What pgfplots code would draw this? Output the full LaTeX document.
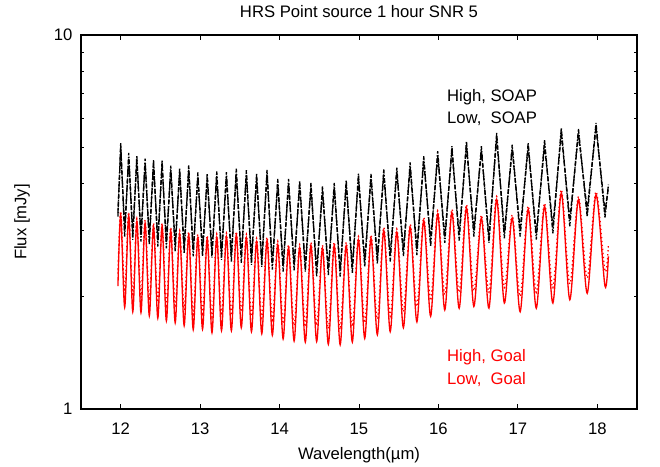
\documentclass[border=0pt]{standalone}
\usepackage{pgfplots}
\usepackage{pgfplotstable}
\usepackage{fontspec}
\setmainfont{Liberation Sans}
\pgfplotsset{compat=1.18}
\pgfplotstableread{
x hs ls hg lg
11.965 3.27 3.35 2.13 2.30
12.000 5.14 4.99 3.31 3.38
12.050 2.89 3.01 1.87 2.06
12.101 4.84 4.69 3.29 3.36
12.152 2.835 2.95 1.82 2.00
12.203 4.76 4.62 3.17 3.23
12.255 2.805 2.92 1.81 1.99
12.307 4.67 4.53 3.14 3.20
12.360 2.75 2.86 1.775 1.95
12.413 4.64 4.50 3.08 3.14
12.467 2.72 2.83 1.75 1.93
12.521 4.62 4.48 3.08 3.14
12.575 2.69 2.80 1.72 1.89
12.630 4.47 4.34 3.00 3.06
12.686 2.64 2.75 1.70 1.87
12.742 4.41 4.28 2.94 3.00
12.799 2.61 2.71 1.67 1.84
12.856 4.48 4.35 2.92 2.98
12.913 2.56 2.66 1.63 1.79
12.971 4.29 4.16 2.87 2.93
13.030 2.56 2.66 1.635 1.80
13.089 4.26 4.13 2.85 2.91
13.149 2.54 2.64 1.60 1.76
13.209 4.32 4.19 2.88 2.94
13.269 2.505 2.61 1.62 1.78
13.331 4.30 4.17 2.89 2.95
13.393 2.48 2.58 1.62 1.78
13.455 4.39 4.26 2.92 2.98
13.518 2.46 2.56 1.65 1.82
13.582 4.35 4.22 2.87 2.93
13.646 2.43 2.53 1.61 1.77
13.711 4.26 4.13 2.80 2.86
13.776 2.40 2.50 1.59 1.75
13.842 4.36 4.23 2.82 2.88
13.909 2.36 2.45 1.575 1.73
13.977 4.12 4.00 2.75 2.81
14.045 2.33 2.42 1.54 1.69
14.113 4.12 4.00 2.70 2.75
14.183 2.35 2.44 1.52 1.67
14.253 4.08 3.96 2.70 2.75
14.324 2.33 2.42 1.51 1.66
14.395 4.02 3.90 2.735 2.79
14.467 2.26 2.35 1.515 1.67
14.540 3.94 3.82 2.69 2.74
14.614 2.28 2.37 1.49 1.64
14.688 4.02 3.90 2.735 2.79
14.763 2.26 2.35 1.485 1.63
14.839 4.09 3.97 2.735 2.79
14.916 2.31 2.40 1.51 1.66
14.993 4.26 4.13 2.835 2.89
15.072 2.40 2.50 1.545 1.70
15.151 4.25 4.12 2.86 2.92
15.231 2.45 2.55 1.58 1.74
15.312 4.37 4.24 3.00 3.06
15.393 2.48 2.58 1.61 1.77
15.476 4.42 4.29 2.97 3.03
15.559 2.56 2.66 1.65 1.82
15.644 4.56 4.42 3.06 3.12
15.729 2.58 2.68 1.71 1.88
15.815 4.74 4.60 3.19 3.25
15.902 2.72 2.83 1.77 1.95
15.991 4.89 4.74 3.32 3.39
16.080 2.78 2.89 1.84 2.02
16.170 5.04 4.89 3.35 3.42
16.261 2.82 2.93 1.86 2.05
16.353 5.20 5.04 3.45 3.52
16.446 2.89 3.01 1.88 2.07
16.541 5.04 4.89 3.24 3.30
16.636 2.78 2.89 1.86 2.05
16.733 5.47 5.31 3.63 3.70
16.830 2.86 2.97 1.92 2.11
16.929 5.09 4.94 3.24 3.30
17.029 2.89 3.01 1.82 2.00
17.130 5.15 5.00 3.42 3.49
17.232 2.84 2.95 1.86 2.05
17.336 5.23 5.07 3.48 3.55
17.441 2.95 3.07 1.92 2.11
17.547 5.64 5.47 3.78 3.86
17.654 3.08 3.20 1.96 2.16
17.763 5.61 5.44 3.63 3.70
17.873 3.27 3.40 2.04 2.24
17.984 5.82 5.65 3.74 3.81
18.097 3.25 3.38 2.13 2.34
18.140 3.98 3.90 2.56 2.75
}\fluxdata

\begin{document}
\begin{tikzpicture}
\begin{axis}[
  scale only axis, width=417pt, height=280.5pt,
  at={(0pt,0pt)}, anchor=south west,
  xmin=11.5, xmax=18.5, ymin=1, ymax=10, ymode=log,
  xtick={12,13,14,15,16,17,18},
  ytick={1,10}, yticklabels={1,10},
  minor ytick={2,3,4,5,6,7,8,9},
  tick align=inside, major tick length=4pt, minor tick length=2.2pt,
  every tick/.style={black, line width=0.6pt},
  axis line style={line width=0.9pt},
  tick label style={font=\fontsize{12.5}{14}\selectfont},
  /pgf/number format/assume math mode=true,
  xticklabel style={yshift=-7pt},
  yticklabel style={xshift=-3pt},
  xlabel={Wavelength(µm)}, ylabel={Flux [mJy]},
  label style={font=\fontsize{12.5}{14}\selectfont},
  xlabel style={at={(axis description cs:0.5,-0.123)}, anchor=center},
  ylabel style={at={(axis description cs:-0.106,0.5)}, anchor=center},
]
\addplot[black, line width=1pt, dash pattern=on 3.5pt off 1.2pt on 1pt off 1.2pt] table[x=x, y=hs] {\fluxdata};
\addplot[black, line width=1pt, dash pattern=on 3.5pt off 1.5pt] table[x=x, y=ls] {\fluxdata};
\addplot[red, line width=1pt, smooth, tension=0.5] table[x=x, y=hg] {\fluxdata};
\addplot[red, line width=1pt, dotted, smooth, tension=0.5] table[x=x, y=lg] {\fluxdata};
\node[anchor=west, font=\fontsize{12.5}{14}\selectfont, text=black] at (axis cs:16.05,6.84) {High, SOAP};
\node[anchor=west, font=\fontsize{12.5}{14}\selectfont, text=black] at (axis cs:16.05,5.98) {Low,\ \ SOAP};
\node[anchor=west, font=\fontsize{12.5}{14}\selectfont, text=red] at (axis cs:16.05,1.378) {High, Goal};
\node[anchor=west, font=\fontsize{12.5}{14}\selectfont, text=red] at (axis cs:16.05,1.196) {Low,\ \ Goal};
\end{axis}
\node[font=\fontsize{12.5}{14}\selectfont] at (208.5pt,297.75pt) {HRS Point source 1 hour SNR 5};
\pgfresetboundingbox
\path (-60.75pt,-43.5pt) rectangle (434.25pt,306.75pt);
\end{tikzpicture}
\end{document}
